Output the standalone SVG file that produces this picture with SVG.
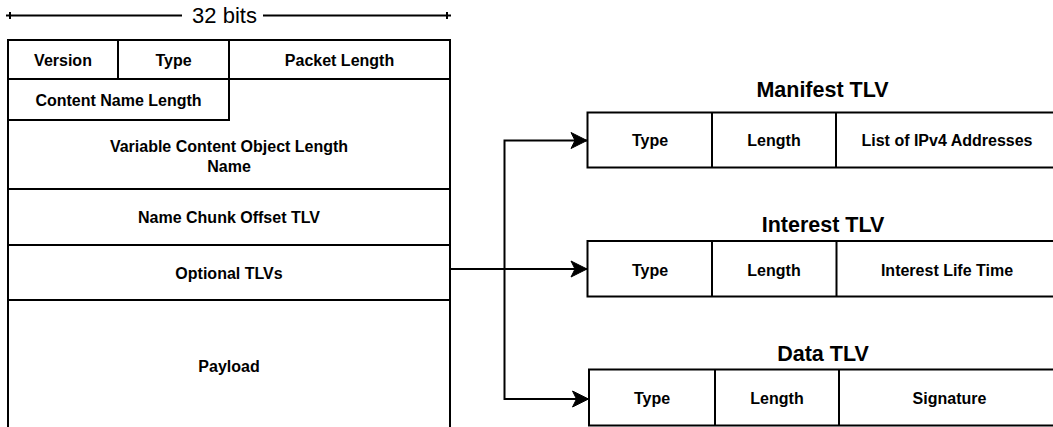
<svg xmlns="http://www.w3.org/2000/svg" width="1053" height="427" viewBox="0 0 1053 427">
  <style>
    .box { fill: #ffffff; stroke: #000000; stroke-width: 2; }
    .ln { fill: none; stroke: #000000; stroke-width: 2; }
    .cell { font-family: "Liberation Sans", Arial, sans-serif; font-weight: bold; font-size: 16px; fill: #000000; text-anchor: middle; }
    .title { font-family: "Liberation Sans", Arial, sans-serif; font-weight: bold; font-size: 21.5px; fill: #000000; text-anchor: middle; }
    .ruler { font-family: "Liberation Sans", Arial, sans-serif; font-size: 22px; fill: #000000; text-anchor: middle; }
  </style>
  <defs>
    <marker id="arrow" viewBox="0 0 18 18" refX="17" refY="9" markerWidth="18" markerHeight="18" markerUnits="userSpaceOnUse" orient="auto">
      <path d="M1,1 L17,9 L1,17 L5,9 Z" fill="#000000" stroke="#000000" stroke-width="1"/>
    </marker>
  </defs>
  <rect width="1053" height="427" fill="#ffffff"/>

  <!-- width ruler -->
  <g id="ruler">
    <path class="ln" d="M6,15.5 H182 M263,15.5 H451" stroke-width="1.2"/>
    <path class="ln" d="M10,12 V19 M447,12 V19" stroke-width="1.2"/>
    <text class="ruler" x="224.5" y="23">32 bits</text>
  </g>

  <!-- packet header layout -->
  <g id="packet">
    <path class="ln" d="M8,427 V40 H450 V427"/>
    <g id="row-version">
      <path class="ln" d="M8,79 H450 M118,40 V79 M229,40 V79"/>
      <text class="cell" x="63" y="66">Version</text>
      <text class="cell" x="173.5" y="66">Type</text>
      <text class="cell" x="339.5" y="66">Packet Length</text>
    </g>
    <g id="row-content-name-length">
      <path class="ln" d="M229,79 V120 H8"/>
      <text class="cell" x="118.5" y="106">Content Name Length</text>
    </g>
    <g id="row-variable-name">
      <path class="ln" d="M8,189 H450"/>
      <text class="cell" x="229" y="152">Variable Content Object Length</text>
      <text class="cell" x="229" y="171.5">Name</text>
    </g>
    <g id="row-name-chunk">
      <path class="ln" d="M8,245 H450"/>
      <text class="cell" x="229" y="223">Name Chunk Offset TLV</text>
    </g>
    <g id="row-optional-tlvs">
      <path class="ln" d="M8,300 H450"/>
      <text class="cell" x="229" y="279">Optional TLVs</text>
    </g>
    <g id="row-payload">
      <text class="cell" x="229" y="371.5">Payload</text>
    </g>
  </g>

  <!-- Manifest TLV -->
  <g id="manifest-tlv">
    <text class="title" x="822.5" y="96.5">Manifest TLV</text>
    <rect class="box" x="587.5" y="112.5" width="475" height="55"/>
    <path class="ln" d="M712,112.5 V167.5 M836,112.5 V167.5"/>
    <text class="cell" x="650" y="146">Type</text>
    <text class="cell" x="774" y="146">Length</text>
    <text class="cell" x="947" y="146">List of IPv4 Addresses</text>
  </g>

  <!-- Interest TLV -->
  <g id="interest-tlv">
    <text class="title" x="823" y="231.5">Interest TLV</text>
    <rect class="box" x="587.5" y="241" width="475" height="55.5"/>
    <path class="ln" d="M712,241 V296.5 M836.5,241 V296.5"/>
    <text class="cell" x="650" y="275.5">Type</text>
    <text class="cell" x="774" y="275.5">Length</text>
    <text class="cell" x="947" y="275.5">Interest Life Time</text>
  </g>

  <!-- Data TLV -->
  <g id="data-tlv">
    <text class="title" x="823" y="360.5">Data TLV</text>
    <rect class="box" x="589" y="369.5" width="475" height="56"/>
    <path class="ln" d="M715,369.5 V425.5 M839,369.5 V425.5"/>
    <text class="cell" x="652" y="403.5">Type</text>
    <text class="cell" x="777" y="403.5">Length</text>
    <text class="cell" x="949.5" y="403.5">Signature</text>
  </g>

  <!-- connectors from Optional TLVs -->
  <g id="connectors">
    <path class="ln" d="M450,269 H587" marker-end="url(#arrow)"/>
    <path class="ln" d="M504.5,269 V140.5 H587" marker-end="url(#arrow)"/>
    <path class="ln" d="M504.5,269 V399 H588.5" marker-end="url(#arrow)"/>
  </g>
</svg>
